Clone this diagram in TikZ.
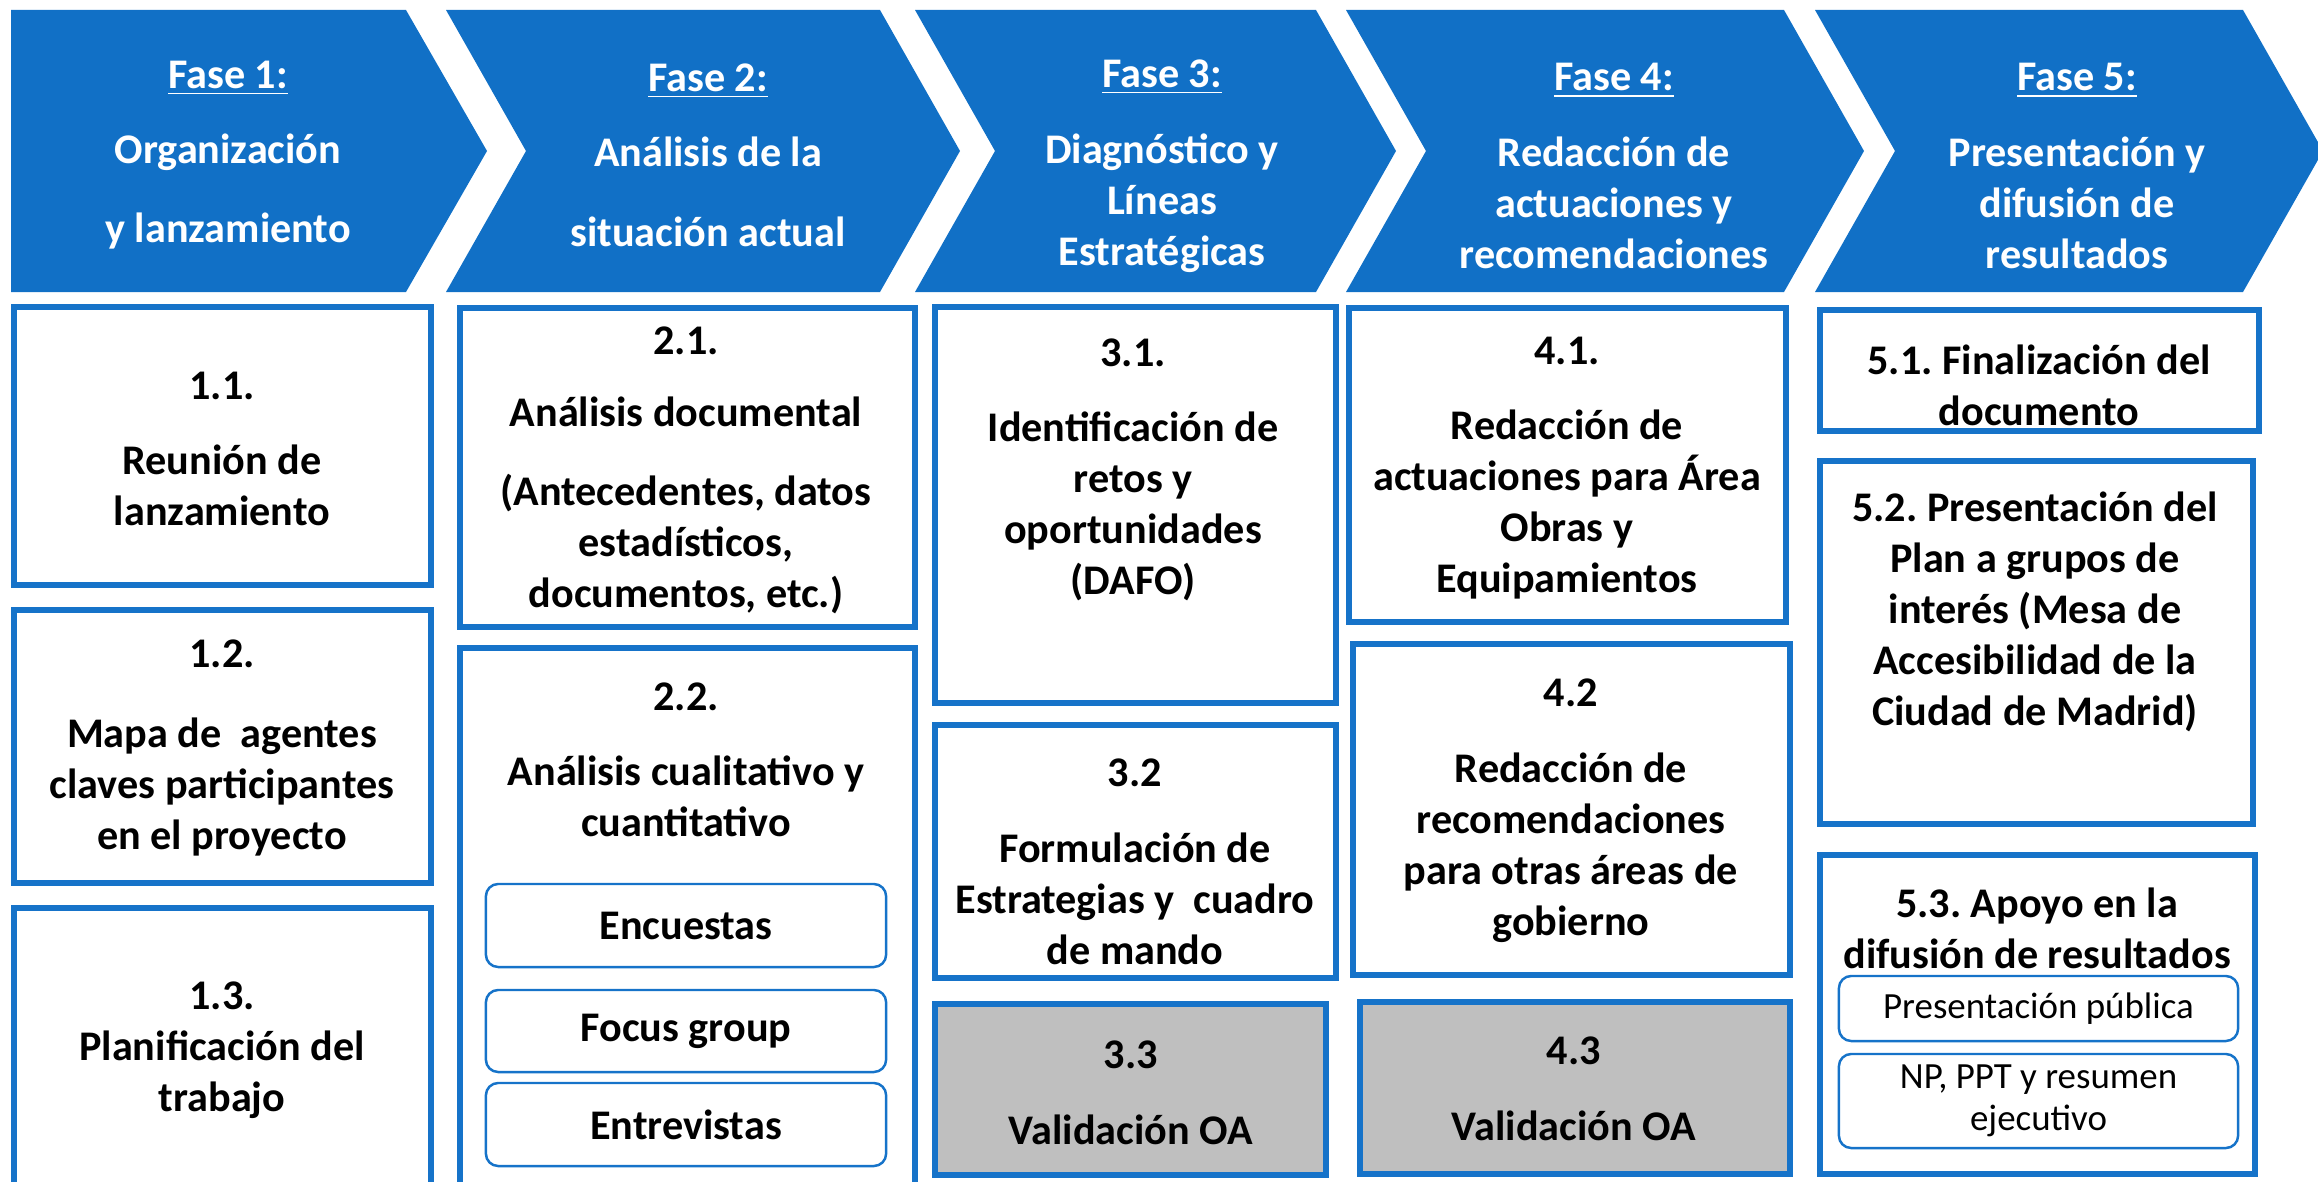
\documentclass[tikz,border=0pt]{standalone}
\usepackage{fontspec}
\setmainfont{Carlito}
\frenchspacing

\definecolor{faseblue}{RGB}{17,112,198}
\definecolor{lineblue}{RGB}{22,115,201}
\definecolor{okgrey}{RGB}{191,191,191}

\begin{document}
\begin{tikzpicture}[x=0.01cm, y=-0.01cm,
                    every node/.style={inner sep=0pt, align=center},
                    fase text/.style={text=white, font={\fontsize{12}{14.5}\selectfont\bfseries}},
                    task text/.style={font={\fontsize{12}{14.5}\selectfont\bfseries}},
                    note text/.style={font={\fontsize{10.5}{12}\selectfont}},
                    task box/.style={draw=lineblue, line width=1.7pt},
                    check box/.style={task box, fill=okgrey},
                    sub box/.style={draw=lineblue, line width=0.7pt, rounded corners=3.5pt, fill=white}
                   ]

    \useasboundingbox (0,0) rectangle (2318,1182);

    % Phase chevrons
    \fill[faseblue] (11,10) -- (406,10) -- (487,151) -- (406,292) -- (11,292) -- cycle;
    \foreach \l/\r in {446/880, 915/1316, 1346/1784, 1815/2243} {
        \fill[faseblue] (\l,10) -- (\r,10) -- (\r+80,151) -- (\r,292) -- (\l,292) -- (\l+80,151) -- cycle;
    }

    \node[fase text] (f1) at (228,155) {\underline{Fase 1:}\\[7pt]Organización\\[8pt]y lanzamiento};
    \node[fase text] (f2) at (708,155) {\underline{Fase 2:}\\[7pt]Análisis de la\\[8pt]situación actual};
    \node[fase text] (f3) at (1162,166) {\underline{Fase 3:}\\[7pt]Diagnóstico y\\Líneas\\Estratégicas};
    \node[fase text] (f4) at (1614,166) {\underline{Fase 4:}\\[7pt]Redacción de\\actuaciones y\\recomendaciones};
    \node[fase text] (f5) at (2077,166) {\underline{Fase 5:}\\[7pt]Presentación y\\difusión de\\resultados};

    % Column 1
    \node[task box, minimum width=4.17cm, minimum height=2.78cm] (b11) at (222.5,446) {};
    \node[task box, minimum width=4.17cm, minimum height=2.73cm] (b12) at (222.5,746.5) {};
    \node[task box, minimum width=4.17cm, minimum height=2.92cm] (b13) at (222.5,1054) {};

    % Column 2
    \node[task box, minimum width=4.55cm, minimum height=3.19cm] (b21) at (687.5,467.5) {};
    \node[task box, minimum width=4.55cm, minimum height=5.52cm] (b22) at (687.5,924) {};
    \node[sub box, task text, minimum width=4cm, minimum height=0.83cm] (s1) at (686,925.5) {Encuestas};
    \node[sub box, task text, minimum width=4cm, minimum height=0.82cm] (s2) at (686,1031) {Focus group};
    \node[sub box, task text, minimum width=4cm, minimum height=0.83cm] (s3) at (686,1124.5) {Entrevistas};

    % Column 3
    \node[task box, minimum width=4.01cm, minimum height=3.96cm] (b31) at (1135.5,505) {};
    \node[task box, minimum width=4.01cm, minimum height=2.53cm] (b32) at (1135.5,851.5) {};
    \node[check box, minimum width=3.91cm, minimum height=1.71cm] (b33) at (1130.5,1089.5) {};

    % Column 4
    \node[task box, minimum width=4.37cm, minimum height=3.14cm] (b41) at (1567.5,465) {};
    \node[task box, minimum width=4.37cm, minimum height=3.31cm] (b42) at (1571.5,809.5) {};
    \node[check box, minimum width=4.30cm, minimum height=1.72cm] (b43) at (1575,1088) {};

    % Column 5
    \node[task box, minimum width=4.39cm, minimum height=1.21cm] (b51) at (2039.5,370.5) {};
    \node[task box, minimum width=4.33cm, minimum height=3.63cm] (b52) at (2036.5,642.5) {};
    \node[task box, minimum width=4.35cm, minimum height=3.19cm] (b53) at (2037.5,1014.5) {};
    \node[sub box, note text, minimum width=3.99cm, minimum height=0.65cm] (s4) at (2038.5,1008.5) {Presentación pública};
    \node[sub box, note text, minimum width=3.99cm, minimum height=0.94cm] (s5) at (2038.5,1101) {NP, PPT y resumen\\ejecutivo};

    % Task texts
    \node[task text] (t11) at (222,449) {1.1.\\[7pt]Reunión de\\lanzamiento};
    \node[task text] (t12) at (222,748) {1.2.\\[8pt]Mapa de~ agentes\\claves participantes\\en el proyecto};
    \node[task text] (t13) at (222,1050) {1.3.\\Planificación del\\trabajo};
    \node[task text] (t21) at (686,470) {2.1.\\[6pt]Análisis documental\\[8pt](Antecedentes, datos\\estadísticos,\\documentos, etc.)};
    \node[task text] (t22) at (686,760) {2.2.\\[7pt]Análisis cualitativo y\\cuantitativo};
    \node[task text] (t31) at (1133,470) {3.1.\\[7pt]Identificación de\\retos y\\oportunidades\\(DAFO)};
    \node[task text] (t32) at (1135,862) {3.2\\[7pt]Formulación de\\Estrategias y~ cuadro\\de mando};
    \node[task text] (t33) at (1131,1093) {3.3\\[7pt]Validación OA};
    \node[task text] (t41) at (1567,468) {4.1.\\[7pt]Redacción de\\actuaciones para Área\\Obras y\\Equipamientos};
    \node[task text] (t42) at (1571,811) {4.2\\[7pt]Redacción de\\recomendaciones\\para otras áreas de\\gobierno};
    \node[task text] (t43) at (1574,1089) {4.3\\[7pt]Validación OA};
    \node[task text] (t51) at (2039,385) {5.1. Finalización del\\documento};
    \node[task text] (t52) at (2035,612) {5.2. Presentación del\\Plan a grupos de\\interés (Mesa de\\Accesibilidad de la\\Ciudad de Madrid)};
    \node[task text] (t53) at (2037,928) {5.3. Apoyo en la\\difusión de resultados};

\end{tikzpicture}
\end{document}
